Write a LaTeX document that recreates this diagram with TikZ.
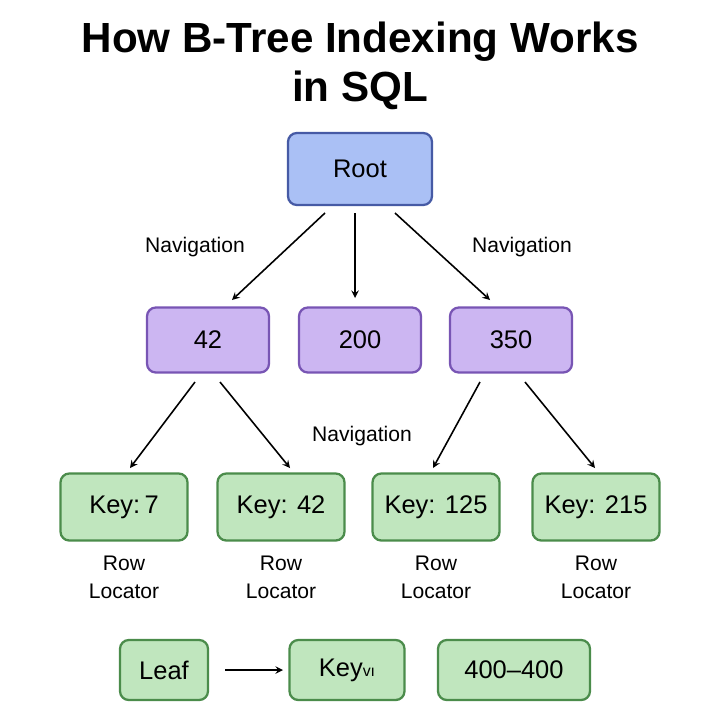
\documentclass[tikz,border=0pt]{standalone}
\usepackage{fontspec}
\setmainfont{Liberation Sans}
\begin{document}
\begin{tikzpicture}[x=0.02cm,y=-0.02cm,
 box/.style={draw,line width=1.3pt,rounded corners=5pt,minimum height=1.3cm,font=\fontsize{14.5pt}{17pt}\selectfont},
 rootb/.style={box,fill={rgb,255:red,170;green,192;blue,245},draw={rgb,255:red,70;green,90;blue,165},minimum width=2.88cm,minimum height=1.44cm},
 midb/.style={box,fill={rgb,255:red,204;green,182;blue,242},draw={rgb,255:red,120;green,85;blue,180},minimum width=2.44cm},
 leafb/.style={box,fill={rgb,255:red,192;green,230;blue,190},draw={rgb,255:red,75;green,140;blue,75},minimum width=2.54cm,minimum height=1.34cm},
 lab/.style={font=\fontsize{12pt}{14pt}\selectfont},
 arr/.style={-stealth,line width=0.9pt}]
\fill[white] (0,0) rectangle (720,720);
\node[font=\bfseries\fontsize{24pt}{28pt}\selectfont,align=center] (t) at (360,66) {How B-Tree Indexing Works\\in SQL};
\node[rootb] (root) at (360,169) {Root};
\node[midb] (m1) at (208,340) {42};
\node[midb] (m2) at (360,340) {200};
\node[midb] (m3) at (511,340) {350};
\node[leafb] (k1) at (124,507) {Key:\,7};
\node[leafb] (k2) at (281,507) {Key: 42};
\node[leafb] (k3) at (436,507) {Key: 125};
\node[leafb] (k4) at (596,507) {Key: 215};
\foreach \n/\x in {r1/124,r2/281,r3/436,r4/596}
  \node[lab,align=center] (\n) at (\x,577) {Row\\[2pt]Locator};
\node[lab] (n1) at (195,247) {Navigation};
\node[lab] (n2) at (522,247) {Navigation};
\node[lab] (n3) at (362,436) {Navigation};
\node[leafb,minimum width=1.76cm,minimum height=1.2cm] (b1) at (164,670) {Leaf};
\node[leafb,minimum width=2.3cm,minimum height=1.2cm] (b2) at (347,670) {Key{\small vı}};
\node[leafb,minimum width=3.04cm,minimum height=1.2cm] (b3) at (514,670) {400–400};
\coordinate (a1) at (325,213); \coordinate (e1) at (232,300);
\coordinate (a2) at (355,213); \coordinate (e2) at (355,298);
\coordinate (a3) at (395,213); \coordinate (e3) at (490,300);
\coordinate (a4) at (195,382); \coordinate (e4) at (130,468);
\coordinate (a5) at (220,382); \coordinate (e5) at (290,468);
\coordinate (a6) at (480,382); \coordinate (e6) at (433,468);
\coordinate (a7) at (525,382); \coordinate (e7) at (595,468);
\coordinate (a8) at (225,670); \coordinate (e8) at (283,670);
\foreach \i in {1,...,8} \draw[arr] (a\i) -- (e\i);
\end{tikzpicture}
\end{document}
